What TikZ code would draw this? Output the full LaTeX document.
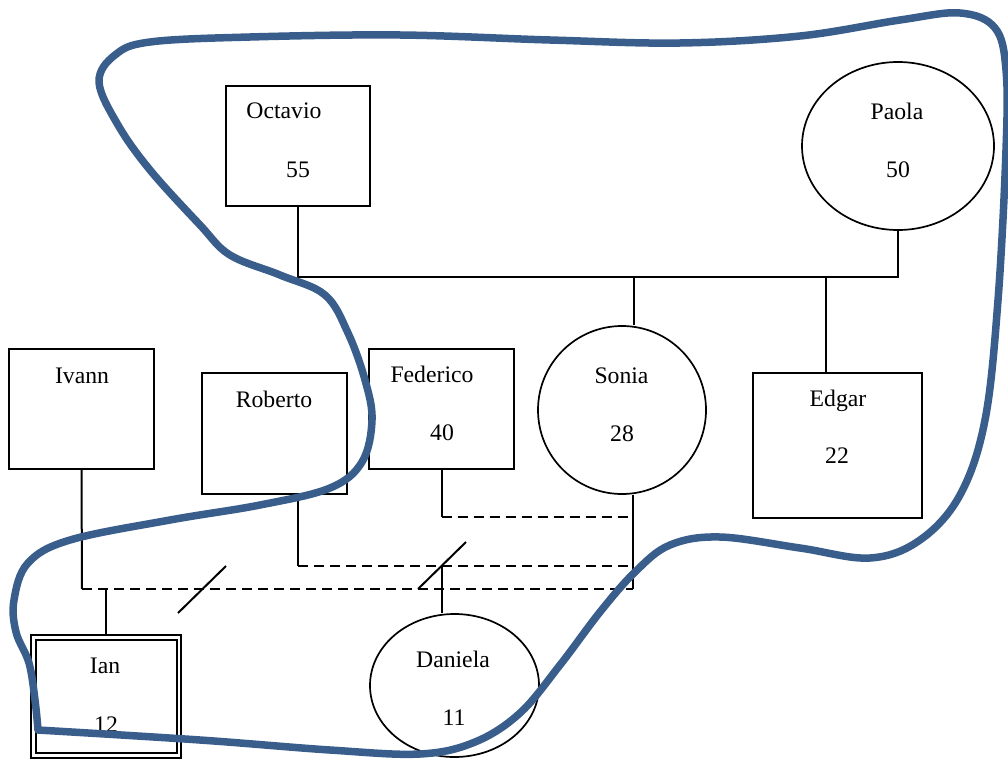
\documentclass[tikz,border=0pt]{standalone}
\usepackage{fontspec}
\setmainfont{Liberation Serif}
\usetikzlibrary{shapes.geometric}
\definecolor{groupblue}{RGB}{58,94,140}
\begin{document}
\begin{tikzpicture}[x=1pt,y=-1pt,
  male/.style={draw,line width=2pt,fill=white,rectangle,inner sep=0pt},
  female/.style={draw,line width=1.7pt,fill=white,ellipse,inner sep=0pt},
  tag/.style={anchor=base,inner sep=0pt,font=\fontsize{23.7}{28}\selectfont},
  link/.style={line width=2pt},
  brokenlink/.style={line width=2pt,dash pattern=on 10pt off 6pt},
  cut/.style={line width=2pt},
  group/.style={draw=groupblue,line width=7.5pt,line join=round,line cap=round}]
\useasboundingbox (0,0) rectangle (1008,760);

% people
\node[male,minimum width=144pt,minimum height=120pt] (octavio) at (298,146) {};
\node[female,minimum width=192pt,minimum height=168pt] (paola) at (898,146) {};
\node[male,minimum width=145pt,minimum height=120pt] (ivann) at (81.5,409) {};
\node[male,minimum width=145pt,minimum height=121pt] (roberto) at (274.5,433.5) {};
\node[male,minimum width=145pt,minimum height=120pt] (federico) at (441.5,409) {};
\node[female,minimum width=168pt,minimum height=168pt] (sonia) at (622,410) {};
\node[male,minimum width=169pt,minimum height=145pt] (edgar) at (837.5,445.5) {};
\node[male,minimum width=150pt,minimum height=123pt] (ianout) at (106,696.5) {};
\node[male,minimum width=141pt,minimum height=113pt] (ian) at (106,696.5) {};
\node[female,minimum width=169pt,minimum height=143pt] (daniela) at (454.5,685.5) {};

% names and ages
\node[tag] (tOct) at (284,118) {Octavio};
\node[tag] (aOct) at (298,177) {55};
\node[tag] (tPao) at (897,119) {Paola};
\node[tag] (aPao) at (898,177) {50};
\node[tag] (tIva) at (82,383) {Ivann};
\node[tag] (tRob) at (274,407) {Roberto};
\node[tag] (tFed) at (432,382) {Federico};
\node[tag] (aFed) at (442,440) {40};
\node[tag] (tSon) at (621.5,383) {Sonia};
\node[tag] (aSon) at (622,441) {28};
\node[tag] (tEdg) at (838,406) {Edgar};
\node[tag] (aEdg) at (837,463) {22};
\node[tag] (tIan) at (105,673) {Ian};
\node[tag] (aIan) at (106,732) {12};
\node[tag] (tDan) at (453,667) {Daniela};
\node[tag] (aDan) at (454,725) {11};

% junction points of the family lines
\coordinate (parents) at (634,277);
\coordinate (edgarlink) at (826,277);
\coordinate (soniaend) at (633,589);
\coordinate (fedline) at (633,517);
\coordinate (robline) at (633,566);
\coordinate (robdrop) at (298,566);
\coordinate (ivaline) at (82,589);
\coordinate (iandrop) at (106,589);
\coordinate (dandrop) at (442,566);

% parents and their children
\draw[link] (octavio.south) |- (edgarlink) -| (paola.south);
\draw[link] (parents) -- (parents |- sonia.north);
\draw[link] (edgarlink) -- (edgarlink |- edgar.north);

% Sonia's unions
\draw[link] (soniaend |- sonia.south) -- (soniaend);
\draw[link] (federico.south) -- (federico.south |- fedline);
\draw[brokenlink] (federico.south |- fedline) -- (fedline);
\draw[link] (robdrop |- roberto.south) -- (robdrop);
\draw[brokenlink] (robdrop) -- (robline);
\draw[link] (ivann.south) -- (ivaline);
\draw[brokenlink] (ivaline) -- (soniaend);

% children of the unions
\draw[link] (iandrop) -- (iandrop |- ianout.north);
\draw[link] (dandrop) -- (dandrop |- daniela.north);

% separation marks
\coordinate (cutAa) at (178,613);
\coordinate (cutAb) at (226,566);
\coordinate (cutBa) at (418,589);
\coordinate (cutBb) at (466,542);
\draw[cut] (cutAa) -- (cutAb);
\draw[cut] (cutBa) -- (cutBb);

% household boundary, starting and ending at its lower left corner
\draw[group] plot[smooth,tension=0.6] coordinates {
  (38,730) (35,700) (29,663) (16,632) (14,600) (28,563) (70,540)
  (170,520) (260,505) (330,488) (362,462) (372,420) (365,380)
  (348,333) (325,295) (280,275) (230,255) (200,225) (150,170)
  (118,125) (99,82) (115,55) (150,42) (250,37) (400,35) (550,40)
  (680,43) (800,36) (900,20) (960,13) (995,28) (1006,70) (1006,150)
  (998,300) (985,420) (960,495) (920,540) (870,558) (800,548)
  (720,537) (670,545) (635,572) (600,612) (560,665) (520,713)
  (475,742) (420,754) (330,750) (200,740) (38,730)};
\end{tikzpicture}
\end{document}
